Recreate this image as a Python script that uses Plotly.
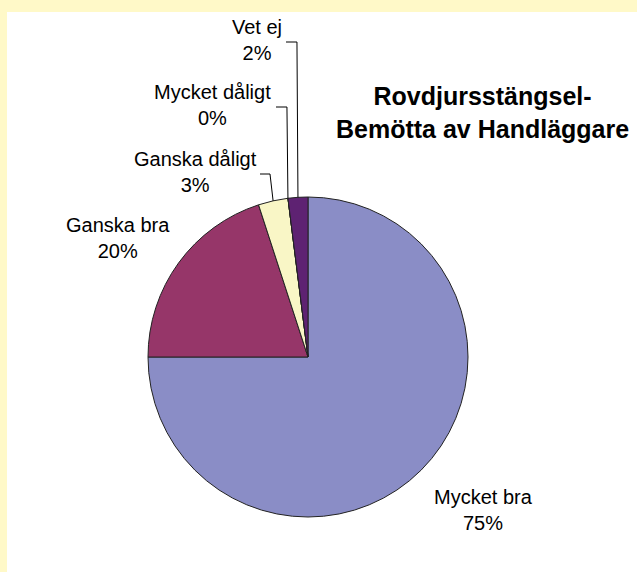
import math
import plotly.graph_objects as go

# ---- data ----
categories = ["Mycket bra", "Ganska bra", "Ganska dåligt", "Mycket dåligt", "Vet ej"]
values = [75, 20, 3, 0, 2]
colors = ["#8A8DC6", "#963669", "#F9F6C6", "#CCFFFF", "#5E2272"]
title_text = "Rovdjursstängsel-<br>Bemötta av Handläggare"

W, H = 637, 572
# pie geometry (pixels)
cx, cy, R = 308, 357, 160

def px(x):
    return x / W

def py(y):
    return 1 - y / H

fig = go.Figure()
fig.add_trace(go.Pie(
    labels=categories,
    values=values,
    sort=False,
    direction="clockwise",
    rotation=0,
    marker=dict(colors=colors, line=dict(color="#222222", width=1)),
    textinfo="none",
    hoverinfo="label+percent",
    showlegend=False,
    domain=dict(x=[px(cx - R), px(cx + R)], y=[py(cy + R), py(cy - R)]),
))

# label placement (pixel centers of label blocks) and leader flags
label_pos = {
    "Mycket bra": (483, 510, False),
    "Ganska bra": (118, 238, False),
    "Ganska dåligt": (195, 172, True),
    "Mycket dåligt": (212, 105, True),
    "Vet ej": (257, 40, True),
}
label_right = {"Ganska dåligt": 260, "Mycket dåligt": 276, "Vet ej": 286}

total = sum(values)
cum = 0.0
shapes = [
    dict(type="rect", xref="paper", yref="paper", x0=0, x1=1, y0=0, y1=1,
         fillcolor="#FFF9C8", line=dict(width=0), layer="below"),
    dict(type="rect", xref="paper", yref="paper", x0=px(7), x1=1, y0=0, y1=py(12),
         fillcolor="#FFFFFF", line=dict(width=0), layer="below"),
]
annotations = []
for cat, v in zip(categories, values):
    frac = v / total
    mid = (cum + frac / 2) * 2 * math.pi
    cum += frac
    # clockwise from 12 o'clock
    ax = cx + R * math.sin(mid)
    ay = cy - R * math.cos(mid)
    lx, ly, leader = label_pos[cat]
    pct = round(frac * 100)
    annotations.append(dict(
        x=px(lx), y=py(ly), xref="paper", yref="paper",
        text=f"{cat}<br>{pct}%", showarrow=False, align="center",
        font=dict(family="Liberation Sans, Arial, sans-serif", size=20, color="#000000"),
        xanchor="center", yanchor="middle",
    ))
    if leader:
        lr = label_right[cat]
        ey = ly + 2
        elbow_x = ax - 1 if cat != "Ganska dåligt" else lr + 10
        shapes.append(dict(type="line", xref="paper", yref="paper",
                           x0=px(lr), y0=py(ey), x1=px(elbow_x), y1=py(ey),
                           line=dict(color="#000000", width=1)))
        shapes.append(dict(type="line", xref="paper", yref="paper",
                           x0=px(elbow_x), y0=py(ey), x1=px(ax), y1=py(ay),
                           line=dict(color="#000000", width=1)))

annotations.append(dict(
    x=px(482), y=py(113), xref="paper", yref="paper",
    text=f"<b>{title_text}</b>", showarrow=False, align="center",
    font=dict(family="Liberation Sans, Arial, sans-serif", size=25, color="#000000"),
    xanchor="center", yanchor="middle",
))

fig.update_layout(
    width=W, height=H,
    margin=dict(l=0, r=0, t=0, b=0),
    paper_bgcolor="#FFFFFF",
    plot_bgcolor="#FFFFFF",
    shapes=shapes,
    annotations=annotations,
    showlegend=False,
)

fig.write_html("out.html",
               config={"displayModeBar": False},
               post_script="document.body.style.margin='0px';document.body.style.overflow='hidden';")
